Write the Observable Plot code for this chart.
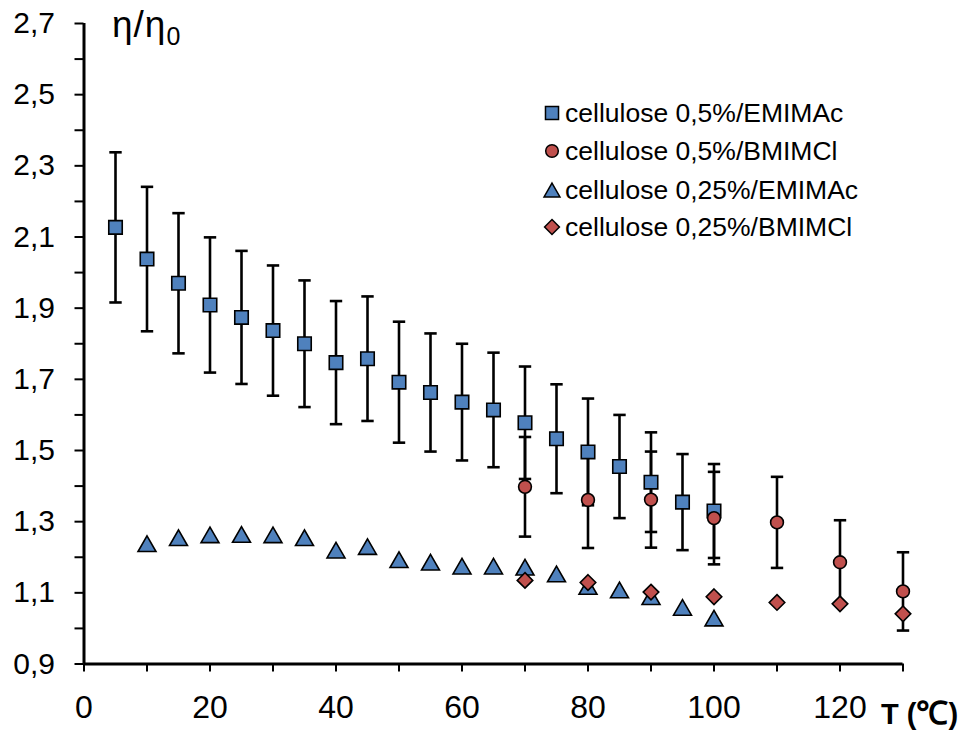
<!DOCTYPE html>
<html>
<head>
<meta charset="utf-8">
<script src="https://cdn.jsdelivr.net/npm/d3@7"></script>
<script src="https://cdn.jsdelivr.net/npm/@observablehq/plot@0.6"></script>
<style>
  html, body { margin: 0; padding: 0; background: #fff; }
  #wrap { position: relative; width: 962px; height: 731px; font-family: "Liberation Sans", Arial, sans-serif; color: #000; }
  #wrap > svg { position: absolute; left: 0; top: 0; }
  .ylab { position: absolute; left: 112px; top: 6px; font-size: 37px; line-height: 37px; white-space: nowrap; letter-spacing: 1px; }
  .ylab .sub { font-size: 25px; position: relative; top: 8px; }
  .xlab { position: absolute; left: 881px; top: 699px; font-size: 29px; line-height: 29px; font-weight: bold; white-space: nowrap; }
  .xlab .deg { font-size: 32px; }
  .legend { position: absolute; left: 539px; top: 0; }
  .legend .row { position: absolute; left: 0; height: 28px; display: flex; align-items: center; white-space: nowrap; font-size: 26.5px; }
  .legend .row svg { display: block; margin-right: 0px; }
</style>
</head>
<body>
<div id="wrap"></div>
<script>
// ---- data ----
const seriesNames = ["cellulose 0,5%/EMIMAc", "cellulose 0,5%/BMIMCl", "cellulose 0,25%/EMIMAc", "cellulose 0,25%/BMIMCl"];

const tempA = [5, 10, 15, 20, 25, 30, 35, 40, 45, 50, 55, 60, 65, 70, 75, 80, 85, 90, 95, 100];
const valA  = [2.127, 2.038, 1.970, 1.909, 1.874, 1.837, 1.800, 1.747, 1.758, 1.692, 1.663, 1.636, 1.614, 1.578, 1.533, 1.496, 1.455, 1.411, 1.355, 1.330];
const errA  = [0.211, 0.203, 0.197, 0.190, 0.187, 0.183, 0.178, 0.173, 0.175, 0.170, 0.166, 0.164, 0.161, 0.158, 0.153, 0.150, 0.145, 0.140, 0.135, 0.132];

const tempB = [70, 80, 90, 100, 110, 120, 130];
const valB  = [1.398, 1.361, 1.362, 1.310, 1.298, 1.186, 1.104];
const errB  = [0.140, 0.135, 0.135, 0.130, 0.128, 0.118, 0.110];

const tempC = [10, 15, 20, 25, 30, 35, 40, 45, 50, 55, 60, 65, 70, 75, 80, 85, 90, 95, 100];
const valC  = [1.238, 1.255, 1.263, 1.264, 1.263, 1.255, 1.220, 1.230, 1.193, 1.186, 1.175, 1.175, 1.172, 1.153, 1.118, 1.108, 1.089, 1.059, 1.029];

const tempD = [70, 80, 90, 100, 110, 120, 130];
const valD  = [1.135, 1.129, 1.102, 1.089, 1.073, 1.069, 1.041];

const xTicks = [0, 10, 20, 30, 40, 50, 60, 70, 80, 90, 100, 110, 120, 130];
const xTickLabels = ["0", "", "20", "", "40", "", "60", "", "80", "", "100", "", "120", ""];
const yTicks = [0.9, 1.0, 1.1, 1.2, 1.3, 1.4, 1.5, 1.6, 1.7, 1.8, 1.9, 2.0, 2.1, 2.2, 2.3, 2.4, 2.5, 2.6, 2.7];
const yTickLabels = ["0,9", "", "1,1", "", "1,3", "", "1,5", "", "1,7", "", "1,9", "", "2,1", "", "2,3", "", "2,5", "", "2,7"];

// ---- build tables ----
const A = tempA.map((t, i) => ({T: t, v: valA[i], lo: valA[i] - errA[i], hi: valA[i] + errA[i]}));
const B = tempB.map((t, i) => ({T: t, v: valB[i], lo: valB[i] - errB[i], hi: valB[i] + errB[i]}));
const C = tempC.map((t, i) => ({T: t, v: valC[i]}));
const D = tempD.map((t, i) => ({T: t, v: valD[i]}));
const errs = A.concat(B);

const blue = "#4F81BD", red = "#C0504D";

// custom symbols
const capSymbol = { draw(ctx, size) { const r = Math.sqrt(size / Math.PI); ctx.moveTo(-r, 0); ctx.lineTo(r, 0); } };
const triSymbol = { draw(ctx, size) { const r = Math.sqrt(size / Math.PI); ctx.moveTo(0, -r); ctx.lineTo(r * 1.15, r); ctx.lineTo(-r * 1.15, r); ctx.closePath(); } };

const xFmt = d => xTickLabels[xTicks.indexOf(d)] ?? "";
const yFmt = d => { const i = yTicks.findIndex(t => Math.abs(t - d) < 1e-6); return i >= 0 ? yTickLabels[i] : ""; };

const chart = Plot.plot({
  width: 962,
  height: 731,
  marginLeft: 83.5,
  marginRight: 59.5,
  marginTop: 23,
  marginBottom: 67.5,
  x: {domain: [0, 130]},
  y: {domain: [0.9, 2.7]},
  style: {fontFamily: "'Liberation Sans', Arial, sans-serif", fontSize: "30px", color: "#000", background: "transparent", overflow: "visible"},
  marks: [
    Plot.axisX({ticks: xTicks, tickFormat: xFmt, tickSize: 8, tickPadding: 23, strokeWidth: 2, label: null, fontSize: 32}),
    Plot.axisY({ticks: yTicks, tickFormat: yFmt, tickSize: 9, tickPadding: 20, strokeWidth: 2, label: null, fontSize: 30}),
    Plot.ruleX([0], {stroke: "#000", strokeWidth: 3}),
    Plot.ruleY([0.9], {stroke: "#000", strokeWidth: 3}),
    // error bars
    Plot.ruleX(errs, {x: "T", y1: "lo", y2: "hi", stroke: "#000", strokeWidth: 2.6}),
    Plot.dot(errs, {x: "T", y: "hi", symbol: capSymbol, r: 6.2, stroke: "#000", strokeWidth: 2.6, fill: "none"}),
    Plot.dot(errs, {x: "T", y: "lo", symbol: capSymbol, r: 6.2, stroke: "#000", strokeWidth: 2.6, fill: "none"}),
    // markers
    Plot.dot(A, {x: "T", y: "v", symbol: "square", r: 7.6, fill: blue, stroke: "#000", strokeWidth: 1.6}),
    Plot.dot(B, {x: "T", y: "v", symbol: "circle", r: 6.4, fill: red, stroke: "#000", strokeWidth: 1.6}),
    Plot.dot(C, {x: "T", y: "v", symbol: triSymbol, r: 7.8, fill: blue, stroke: "#000", strokeWidth: 1.6}),
    Plot.dot(D, {x: "T", y: "v", symbol: "diamond2", r: 7.0, fill: red, stroke: "#000", strokeWidth: 1.6})
  ]
});

const wrap = document.getElementById("wrap");
wrap.appendChild(chart);

// axis titles
const yl = document.createElement("div");
yl.className = "ylab";
yl.innerHTML = "η/η<span class=\"sub\">0</span>";
wrap.appendChild(yl);
const xl = document.createElement("div");
xl.className = "xlab";
xl.innerHTML = "T (<span class=\"deg\">℃</span>)";
wrap.appendChild(xl);

// legend
const legendSymbols = [d3.symbolSquare, d3.symbolCircle, triSymbol, d3.symbolDiamond2];
const legendFills = [blue, red, blue, red];
const legendSizes = [170, 125, 150, 140];
const legendRowTops = [99, 137, 176, 213];
const leg = document.createElement("div");
leg.className = "legend";
seriesNames.forEach((name, i) => {
  const row = document.createElement("div");
  row.className = "row";
  row.style.top = legendRowTops[i] + "px";
  const s = d3.create("svg").attr("width", 26).attr("height", 26);
  s.append("path")
    .attr("transform", "translate(13,13)")
    .attr("d", d3.symbol(legendSymbols[i], legendSizes[i])())
    .attr("fill", legendFills[i]).attr("stroke", "#000").attr("stroke-width", 1.5);
  row.appendChild(s.node());
  const t = document.createElement("span");
  t.textContent = name;
  row.appendChild(t);
  leg.appendChild(row);
});
wrap.appendChild(leg);
</script>
</body>
</html>
